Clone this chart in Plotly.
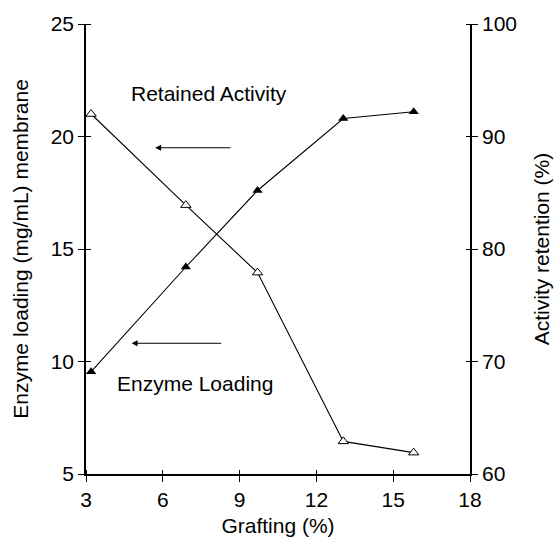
import plotly.graph_objects as go

grafting = [3.2, 6.9, 9.7, 13.05, 15.8]
enzyme_loading = [9.55, 14.2, 17.6, 20.8, 21.1]          # left axis, filled triangles
activity_retention = [92.0, 83.9, 77.9, 62.9, 61.9]      # right axis, open triangles

x_ticks = [3, 6, 9, 12, 15, 18]
y_left_ticks = [5, 10, 15, 20, 25]
y_right_ticks = [60, 70, 80, 90, 100]

FONT = "Liberation Sans, Arial, sans-serif"
FS = 21

W, H = 554, 540
ML, MR, MT, MB = 86, 84, 24, 66
PW, PH = W - ML - MR, H - MT - MB
INNER = 5     # px the cross ticks reach into the plot
OUTER = 6     # px they reach outside

fig = go.Figure()
fig.add_trace(go.Scatter(
    x=grafting, y=enzyme_loading, mode="lines+markers", xaxis="x", yaxis="y",
    line=dict(color="black", width=1.1),
    marker=dict(symbol="triangle-up", size=9, color="black"),
    showlegend=False, name="Enzyme Loading"))
fig.add_trace(go.Scatter(
    x=grafting, y=activity_retention, mode="lines+markers", xaxis="x", yaxis="y2",
    line=dict(color="black", width=1.1),
    marker=dict(symbol="triangle-up", size=9, color="white", line=dict(color="black", width=1)),
    showlegend=False, name="Retained Activity"))
# placeholder traces (no plotted points) so the cross-tick overlay axes are drawn
fig.add_trace(go.Scatter(x=[None], y=[None], xaxis="x2", yaxis="y3", mode="markers",
                         showlegend=False, hoverinfo="skip"))
fig.add_trace(go.Scatter(x=[None], y=[None], xaxis="x2", yaxis="y4", mode="markers",
                         showlegend=False, hoverinfo="skip"))

axis_common = dict(showgrid=False, zeroline=False, linecolor="black", linewidth=1.6,
                   tickcolor="black", tickwidth=1.4, color="black",
                   tickfont=dict(family=FONT, size=FS, color="black"))
title_font = dict(family=FONT, size=FS, color="black")

fig.update_layout(
    width=W, height=H,
    margin=dict(l=ML, r=MR, t=MT, b=MB, autoexpand=False),
    paper_bgcolor="white", plot_bgcolor="white",
    font=dict(family=FONT, size=FS, color="black"),
    xaxis=dict(range=[3, 18], tickvals=x_ticks, ticks="outside", ticklen=OUTER,
               showline=True, title=dict(text="Grafting (%)", standoff=8, font=title_font),
               anchor="y", **axis_common),
    xaxis2=dict(range=[3, 18], tickvals=x_ticks, ticks="outside", ticklen=INNER + OUTER,
                showticklabels=False, showline=False, overlaying="x", anchor="free",
                position=INNER / PH, side="bottom", **axis_common),
    yaxis=dict(range=[5, 25], tickvals=y_left_ticks, ticks="outside", ticklen=OUTER,
               showline=True,
               title=dict(text="Enzyme loading (mg/mL) membrane", standoff=16, font=title_font),
               anchor="x", **axis_common),
    yaxis2=dict(range=[60, 100], tickvals=y_right_ticks, ticks="outside", ticklen=OUTER,
                showline=True, side="right", overlaying="y", anchor="x",
                title=dict(text="Activity retention (%)", standoff=18, font=title_font),
                **axis_common),
    yaxis3=dict(range=[5, 25], tickvals=y_left_ticks, ticks="outside", ticklen=INNER + OUTER,
                showticklabels=False, showline=False, overlaying="y", anchor="free",
                position=INNER / PW, side="left", **axis_common),
    yaxis4=dict(range=[60, 100], tickvals=y_right_ticks, ticks="outside", ticklen=INNER + OUTER,
                showticklabels=False, showline=False, overlaying="y", anchor="free",
                position=1 - INNER / PW, side="right", **axis_common),
)

fig.add_annotation(x=7.8, y=21.93, xref="x", yref="y", text="Retained Activity",
                   showarrow=False, font=dict(size=FS))
fig.add_annotation(x=7.27, y=9.04, xref="x", yref="y", text="Enzyme Loading",
                   showarrow=False, font=dict(size=FS))
fig.add_annotation(x=5.70, y=19.5, ax=8.70, ay=19.5, xref="x", yref="y", axref="x", ayref="y",
                   text="", showarrow=True, arrowhead=2, arrowsize=1.2, arrowwidth=1, arrowcolor="black")
fig.add_annotation(x=4.78, y=10.81, ax=8.34, ay=10.81, xref="x", yref="y", axref="x", ayref="y",
                   text="", showarrow=True, arrowhead=2, arrowsize=1.2, arrowwidth=1, arrowcolor="black")

fig.write_html("out.html")
